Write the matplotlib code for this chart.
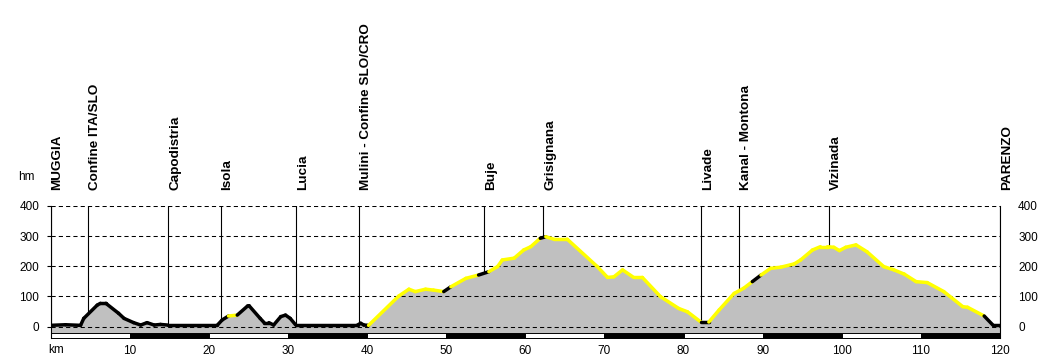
import numpy as np
import matplotlib
matplotlib.use('Agg')
import matplotlib.pyplot as plt
from matplotlib.collections import LineCollection

# profile points (km, metres)
dist_km = [0, 1.9, 3.8, 4.2, 5.9, 6.3, 7.0, 8.6, 9.3, 10.5, 11.4, 12.2, 13.1, 13.9, 14.8,
           21.1, 21.7, 22.5, 23.6, 24.9, 25.1, 26.5, 27.0, 27.6, 28.2, 29.1, 29.7, 30.3, 31.0,
           38.8, 39.2, 39.6, 40.2, 44.0, 45.3, 46.1, 47.4, 48.4, 49.7, 50.6, 52.5, 54.1, 55.4,
           56.5, 57.1, 58.6, 59.8, 60.7, 61.9, 62.6, 63.6, 65.3, 69.1, 70.4, 71.2, 72.3, 73.7,
           74.8, 77.1, 79.4, 80.5, 82.2, 83.2, 84.5, 86.4, 87.6, 88.7, 89.8, 91.0, 92.3, 94.0,
           94.8, 96.3, 97.3, 98.2, 99.0, 99.7, 100.5, 101.8, 103.2, 105.3, 106.6, 107.9, 109.4,
           110.8, 112.9, 115.3, 115.9, 118.0, 119.1, 120.0]
elev_m = [4, 6, 4, 27, 71, 77, 77, 44, 27, 13, 5, 13, 5, 7, 5,
          5, 22, 35, 38, 68, 69, 27, 13, 13, 5, 33, 38, 27, 5,
          5, 11, 5, 4, 101, 124, 116, 124, 121, 116, 132, 160, 171, 182,
          199, 221, 227, 254, 265, 293, 298, 290, 290, 199, 163, 165, 188, 163,
          163, 99, 60, 49, 15, 15, 55, 110, 127, 149, 171, 193, 197, 208,
          221, 254, 265, 265, 263, 252, 263, 271, 248, 199, 188, 174, 149,
          146, 116, 66, 64, 35, 5, 5]
# stretches drawn in black, the rest is yellow
black_km = [(0, 22.5), (23.6, 40.2), (49.7, 50.6), (54.1, 55.4), (61.9, 62.6),
            (82.2, 83.2), (88.7, 89.8), (118.0, 120.0)]

# waypoints
wp_names = ['MUGGIA', 'Confine ITA/SLO', 'Capodistria', 'Isola', 'Lucia',
            'Mulini - Confine SLO/CRO', 'Buje', 'Grisignana', 'Livade',
            'Kanal - Montona', 'Vizinada', 'PARENZO']
wp_km = [0, 4.7, 14.9, 21.5, 31.0, 39.0, 54.8, 62.3, 82.2, 87.05, 98.4, 120]

y_ticks = [0, 100, 200, 300, 400]
x_ticks = [10, 20, 30, 40, 50, 60, 70, 80, 90, 100, 110, 120]
bar_starts = [0, 10, 20, 30, 40, 50, 60, 70, 80, 90, 100, 110]

plt.rcParams['font.family'] = ['Liberation Sans', 'DejaVu Sans']

fig = plt.figure(figsize=(10.5, 3.59), dpi=100)
W, H = 1050.0, 359.0
ax = fig.add_axes([50.5 / W, 21 / H, 949.5 / W, 132 / H])
ax.set_xlim(0, 120)
ax.set_ylim(-38, 400)

# waypoint lines behind the terrain
for k in wp_km:
    ax.axvline(k, color='black', lw=0.8, zorder=0.5)

ax.fill_between(dist_km, elev_m, -22, color='#c0c0c0', lw=0, zorder=1)

# profile line, coloured per segment
pts = np.column_stack([dist_km, elev_m])
segs = np.stack([pts[:-1], pts[1:]], axis=1)
mids = (pts[:-1, 0] + pts[1:, 0]) / 2
cols = []
for m in mids:
    is_black = any(a <= m <= b for a, b in black_km)
    cols.append('black' if is_black else '#ffff00')
lc = LineCollection(segs, colors=cols, linewidths=2.5, capstyle='round',
                    joinstyle='round', zorder=3)
ax.add_collection(lc)

# km bar
bar_cols = ['white' if i % 2 == 0 else 'black' for i in range(len(bar_starts))]
ax.broken_barh([(s, 10) for s in bar_starts], (-38, 15), facecolors=bar_cols,
               edgecolor='black', lw=0.7, zorder=2, clip_on=False)

# grid
for y in y_ticks:
    ax.axhline(y, color='black', lw=0.75, ls=(0, (4, 3)), zorder=2.5)

for s in ['top', 'bottom']:
    ax.spines[s].set_visible(False)
for s in ['left', 'right']:
    ax.spines[s].set_linewidth(0.8)

ax.set_yticks(y_ticks)
ax.set_yticklabels([str(v) for v in y_ticks], fontsize=8.5)
ax.tick_params(axis='y', direction='out', length=3, width=0.8, pad=5)

ax2 = ax.twinx()
ax2.set_ylim(ax.get_ylim())
ax2.set_yticks(y_ticks)
ax2.set_yticklabels([str(v) for v in y_ticks], fontsize=8.5)
ax2.tick_params(axis='y', length=0, pad=13)
for s in ax2.spines.values():
    s.set_visible(False)

ax.set_xticks(x_ticks)
ax.set_xticklabels([str(v) for v in x_ticks], fontsize=8.5)
ax.tick_params(axis='x', length=0, pad=5)
ax.annotate('km', xy=(0, -38), xytext=(-2, -6), textcoords='offset pixels',
            fontsize=8.5, ha='left', va='top')

fig.text(18 / W, (H - 176.5) / H, 'hm', fontsize=8.5, ha='left', va='center')

# waypoint names
for name, k in zip(wp_names, wp_km):
    ax.annotate(name, xy=(k, 400), xytext=(1, 16), textcoords='offset pixels',
                rotation=90, ha='left', va='bottom', fontsize=9.7,
                fontweight='bold')

fig.savefig('out.png', dpi=100)
